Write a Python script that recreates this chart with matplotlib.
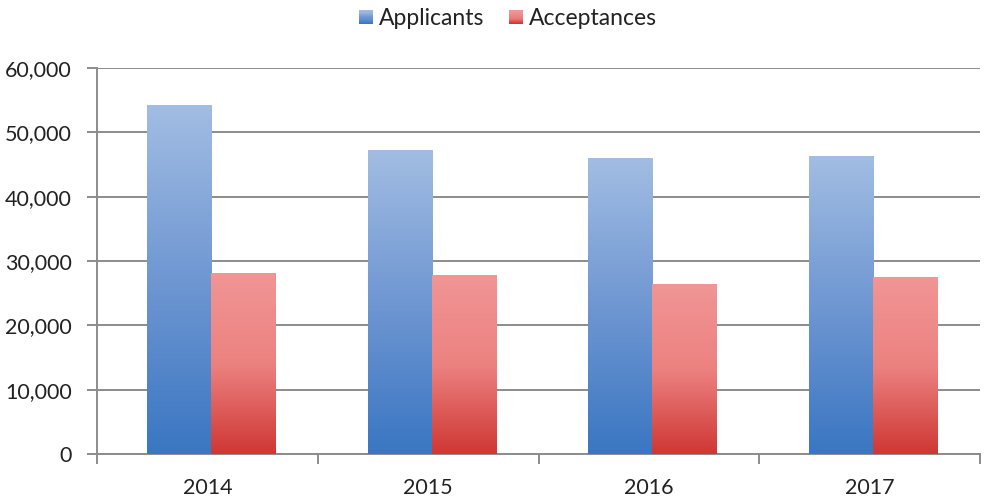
import numpy as np
import matplotlib
matplotlib.use("Agg")
import matplotlib.pyplot as plt
from matplotlib.colors import LinearSegmentedColormap
from matplotlib.legend_handler import HandlerBase
from matplotlib.patches import Rectangle, Patch
from matplotlib.ticker import FuncFormatter, MultipleLocator, FixedLocator

years = ["2014", "2015", "2016", "2017"]
applicants = [54100, 47100, 46000, 46200]
acceptances = [28100, 27800, 26300, 27400]
series_names = ["Applicants", "Acceptances"]

blue_top, blue_mid, blue_bot = "#a2bde3", "#6f97d2", "#3a76c2"
red_top, red_mid, red_bot = "#f19595", "#ec8280", "#cf3734"

plt.rcParams['font.family'] = ['Lato', 'DejaVu Sans']

fig = plt.figure(figsize=(9.91, 4.98), dpi=100)
ax = fig.add_axes([0.0979, 0.0884, 0.891, 0.7751])

x = np.arange(len(years))
w = 0.29
off = 0.016
ybars_a = ax.bar(x - w / 2 + off, applicants, w, facecolor="none", edgecolor="none")
ybars_b = ax.bar(x + w / 2 + off, acceptances, w, facecolor="none", edgecolor="none")

grad = np.linspace(1, 0, 256).reshape(-1, 1)
cm_blue = LinearSegmentedColormap.from_list("b", [blue_bot, blue_mid, blue_top])
cm_red = LinearSegmentedColormap.from_list("r", [red_bot, red_mid, red_top])
for bars, cm in ((ybars_a, cm_blue), (ybars_b, cm_red)):
    for b in bars:
        x0, y0 = b.get_x(), b.get_y()
        ax.imshow(grad, extent=[x0, x0 + b.get_width(), y0, y0 + b.get_height()],
                  aspect="auto", cmap=cm, vmin=0, vmax=1, zorder=3,
                  interpolation="bilinear")

ax.set_xlim(-0.5, len(years) - 0.5)
ax.set_ylim(0, 60000)
ax.yaxis.set_major_locator(MultipleLocator(10000))
ax.yaxis.set_major_formatter(FuncFormatter(lambda v, p: f"{int(v):,}"))
ax.grid(axis="y", color="#8c8c8c", linewidth=1.4, zorder=1)
ax.set_axisbelow(True)
for s in ["top", "right"]:
    ax.spines[s].set_visible(False)
for s in ["left", "bottom"]:
    ax.spines[s].set_color("#8c8c8c")
    ax.spines[s].set_linewidth(1.4)
ax.set_xticks(x)
ax.set_xticklabels(years)
ax.xaxis.set_minor_locator(FixedLocator(np.arange(-0.5, len(years), 1.0)))
ax.tick_params(axis="x", which="major", length=0, pad=17, labelsize=15.5, labelcolor="#222222")
ax.tick_params(axis="x", which="minor", length=7, width=1.4, color="#8c8c8c")
ax.tick_params(axis="y", length=7, width=1.4, color="#8c8c8c", labelsize=15.5,
               labelcolor="#222222", pad=11)


class GradHandler(HandlerBase):
    def __init__(self, top, mid, bot):
        super().__init__()
        self.cols = [bot, mid, top]

    def create_artists(self, legend, orig_handle, xdescent, ydescent, width,
                       height, fontsize, trans):
        cm = LinearSegmentedColormap.from_list("g", self.cols)
        size = min(width, height)
        x0 = -xdescent + (width - size) / 2
        y0 = -ydescent + (height - size) / 2
        n = 12
        arts = []
        for i in range(n):
            r = Rectangle((x0, y0 + size * i / n), size, size / n + 0.3,
                          facecolor=cm(i / (n - 1)), edgecolor="none",
                          transform=trans)
            arts.append(r)
        return arts


h1 = Patch(label=series_names[0])
h2 = Patch(label=series_names[1])
fig.legend(handles=[h1, h2], loc="center", bbox_to_anchor=(0.5126, 0.962), ncol=2,
           frameon=False, fontsize=16.5, handlelength=0.62, handleheight=0.62,
           handletextpad=0.25, columnspacing=1.1, labelcolor="#222222",
           handler_map={h1: GradHandler(blue_top, blue_mid, blue_bot),
                        h2: GradHandler(red_top, red_mid, red_bot)})

fig.savefig("out.png", dpi=100)
